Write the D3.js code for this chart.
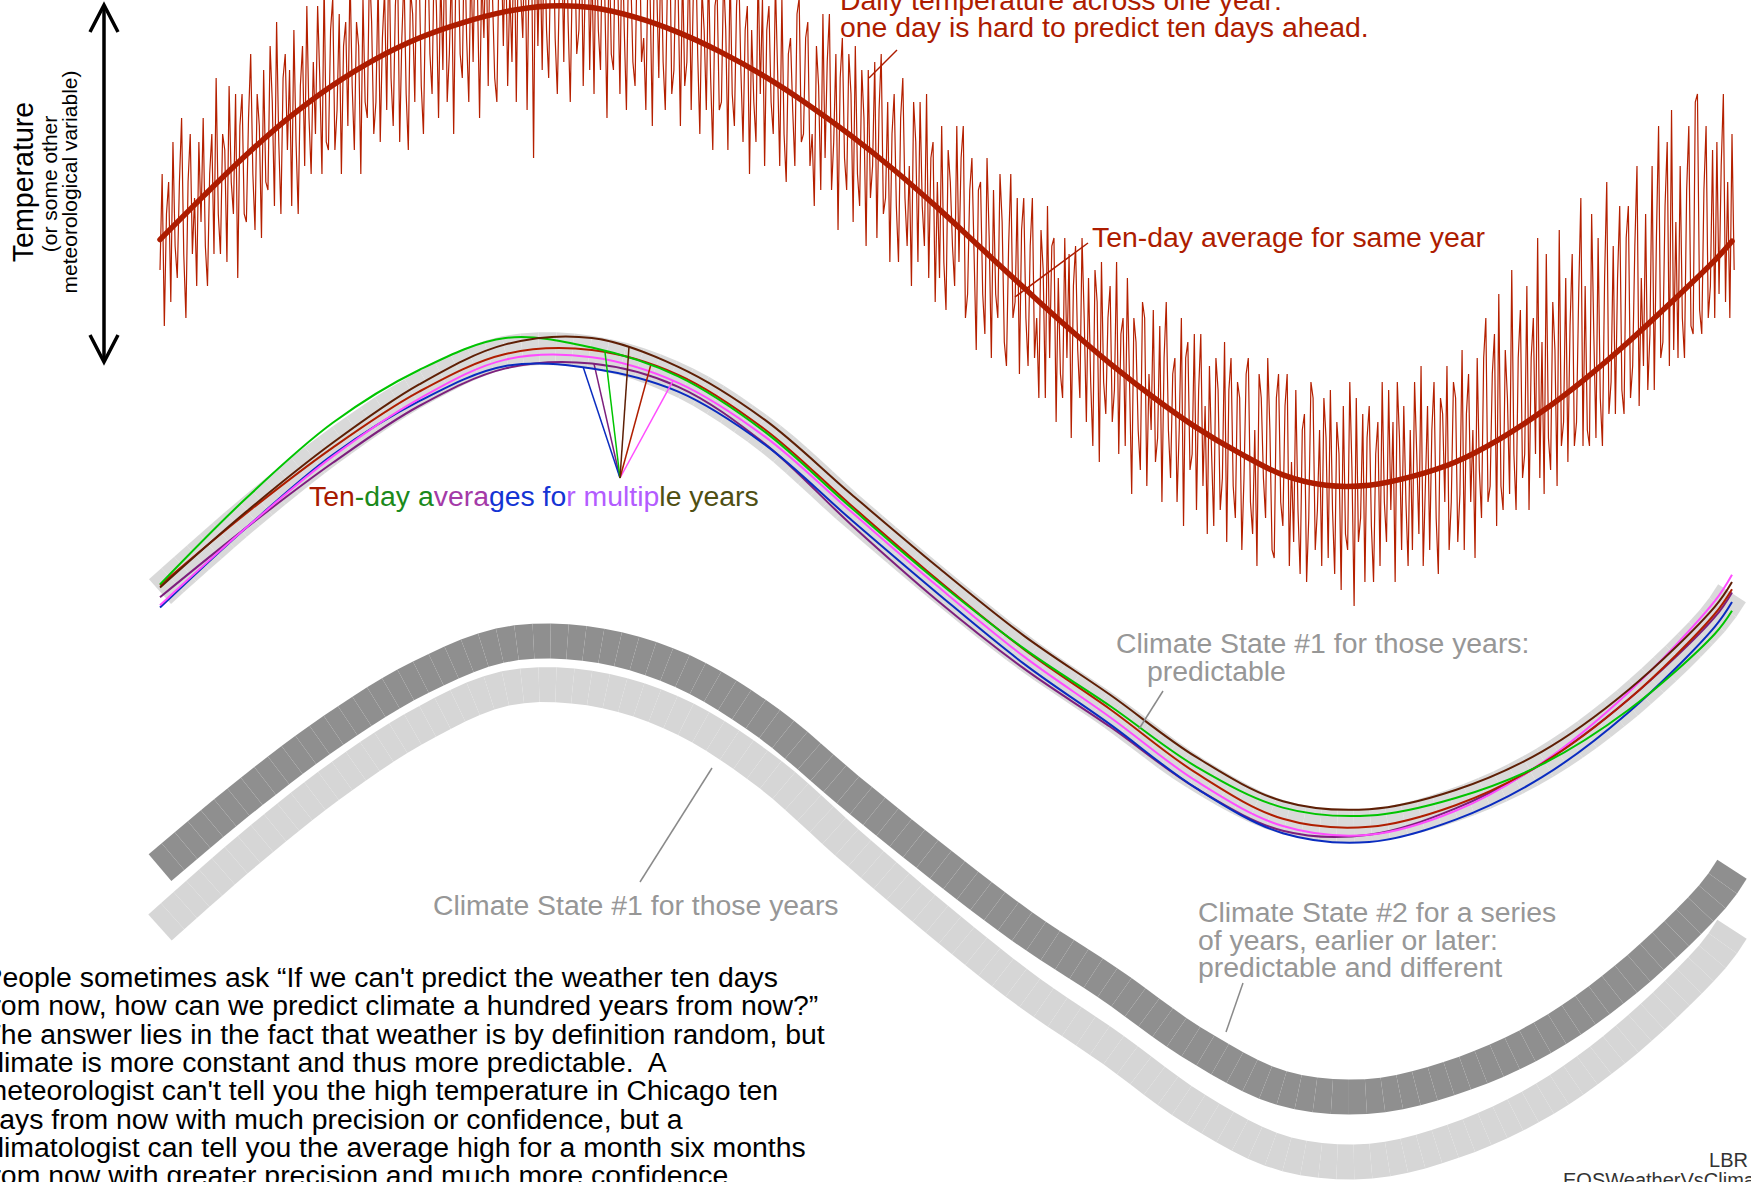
<!DOCTYPE html>
<html>
<head>
<meta charset="utf-8">
<script src="https://cdn.jsdelivr.net/npm/d3@7"></script>
<style>
  html, body { margin: 0; padding: 0; background: #fff; overflow: hidden; }
  svg { display: block; font-family: "Liberation Sans", Arial, Helvetica, sans-serif; }
  text { white-space: pre; }
</style>
</head>
<body>
<script>
// ---- data (temperature units; two readings a day) ----
const dailyTemp = [
  52, 64, 45, 59, 63, 48, 68, 55, 51, 63, 71, 54, 46, 63, 69, 54, 61, 50, 68, 58,
  71, 55, 50, 64, 69, 54, 76, 59, 54, 69, 67, 53, 75, 63, 59, 74, 51, 70, 74, 59,
  58, 71, 79, 64, 57, 74, 70, 56, 77, 63, 62, 80, 73, 60, 83, 68, 59, 76, 79, 67,
  77, 60, 82, 68, 59, 75, 80, 65, 85, 71, 64, 78, 69, 85, 76, 64, 88, 68, 67, 82,
  86, 67, 72, 84, 64, 80, 83, 70, 89, 75, 67, 83, 80, 64, 86, 73, 71, 90, 83, 69,
  73, 88, 68, 81, 87, 72, 93, 76, 70, 85, 91, 68, 81, 89, 74, 67, 87, 84, 73, 93,
  90, 75, 69, 86, 93, 79, 74, 92, 85, 71, 89, 77, 95, 73, 79, 90, 69, 89, 94, 79,
  76, 95, 81, 73, 91, 78, 94, 87, 71, 89, 81, 94, 75, 98, 86, 76, 73, 91, 93, 80,
  95, 75, 87, 78, 97, 73, 93, 87, 81, 95, 72, 91, 94, 66, 97, 80, 93, 77, 96, 82,
  76, 92, 97, 81, 74, 88, 94, 78, 99, 83, 73, 90, 93, 79, 82, 96, 75, 89, 98, 77,
  91, 74, 95, 82, 77, 97, 86, 71, 93, 79, 77, 97, 88, 74, 95, 82, 72, 91, 89, 78,
  75, 92, 95, 78, 81, 72, 90, 86, 70, 93, 88, 76, 93, 78, 72, 88, 95, 74, 77, 91,
  86, 70, 90, 75, 78, 92, 72, 87, 94, 79, 69, 87, 82, 72, 90, 76, 67, 85, 87, 72,
  73, 89, 82, 67, 90, 74, 70, 85, 90, 77, 68, 82, 85, 64, 82, 73, 68, 90, 74, 86,
  65, 82, 85, 73, 69, 88, 77, 65, 86, 69, 63, 79, 81, 72, 65, 84, 86, 68, 69, 81,
  83, 65, 69, 60, 80, 75, 62, 84, 66, 78, 84, 62, 68, 79, 57, 76, 81, 66, 62, 79,
  74, 58, 80, 64, 60, 77, 71, 55, 77, 61, 65, 78, 56, 72, 79, 59, 61, 73, 53, 69,
  74, 60, 53, 71, 76, 61, 55, 65, 50, 73, 68, 53, 73, 60, 55, 74, 51, 66, 68, 48,
  63, 51, 70, 53, 47, 67, 63, 55, 50, 70, 53, 66, 70, 46, 49, 62, 66, 54, 42, 62,
  63, 49, 44, 66, 56, 41, 62, 49, 46, 64, 58, 43, 40, 55, 64, 46, 48, 61, 39, 57,
  61, 46, 40, 55, 61, 41, 46, 36, 57, 52, 36, 60, 41, 55, 56, 33, 51, 39, 36, 56,
  41, 54, 31, 50, 55, 42, 36, 56, 46, 33, 51, 38, 30, 52, 48, 28, 53, 38, 34, 46,
  50, 33, 37, 53, 29, 44, 46, 30, 51, 38, 24, 46, 43, 32, 27, 48, 46, 25, 39, 32,
  47, 28, 31, 45, 23, 41, 48, 32, 26, 39, 41, 23, 32, 46, 20, 41, 43, 27, 29, 44,
  22, 37, 44, 25, 35, 19, 40, 29, 20, 41, 37, 22, 26, 43, 18, 37, 41, 25, 21, 38,
  36, 17, 26, 39, 41, 23, 19, 32, 15, 39, 36, 26, 21, 41, 32, 17, 16, 36, 39, 23,
  20, 35, 39, 15, 28, 18, 37, 22, 14, 32, 34, 13, 21, 38, 36, 17, 22, 32, 15, 36,
  31, 16, 37, 22, 14, 33, 29, 12, 35, 19, 17, 38, 27, 10, 36, 18, 21, 34, 13, 31,
  35, 20, 13, 29, 33, 15, 38, 23, 18, 37, 22, 33, 13, 38, 31, 17, 35, 23, 15, 32,
  17, 38, 29, 19, 40, 15, 25, 35, 17, 32, 38, 21, 14, 36, 34, 23, 40, 17, 23, 38,
  36, 18, 24, 42, 17, 34, 39, 23, 32, 16, 41, 27, 21, 41, 46, 23, 25, 39, 44, 20,
  49, 25, 22, 42, 36, 24, 52, 29, 22, 41, 47, 26, 29, 50, 22, 41, 46, 29, 56, 26,
  43, 24, 54, 31, 27, 48, 42, 25, 57, 30, 33, 51, 28, 45, 54, 30, 33, 49, 61, 30,
  50, 32, 30, 59, 44, 31, 56, 36, 30, 51, 63, 34, 38, 55, 34, 51, 60, 37, 34, 56,
  60, 36, 40, 55, 65, 35, 51, 40, 59, 37, 44, 65, 37, 56, 70, 41, 43, 60, 68, 40,
  72, 42, 58, 41, 65, 46, 41, 62, 70, 45, 44, 73, 74, 47, 44, 62, 70, 46, 50, 67,
  46, 68, 49, 65, 74, 48, 63, 46, 69, 52
];

const avgDays = [0, 10, 20, 30, 40, 50, 60, 70, 80, 90, 100, 110, 120, 130, 140, 150, 160, 170, 180,
  190, 200, 210, 220, 230, 240, 250, 260, 270, 280, 290, 300, 310, 320, 330, 340, 350, 360, 364];
const tenDayAvg = [55.8, 61.2, 66.4, 71.1, 75.1, 78.4, 81.0, 82.9, 84.3, 85.0, 84.8, 83.6, 81.7, 79.2,
  76.2, 72.7, 68.8, 64.5, 59.8, 54.8, 49.8, 44.9, 40.3, 36.1, 32.3, 29.1, 26.4, 25.1, 25.1, 26.2,
  28.0, 30.8, 34.3, 38.4, 43.0, 48.0, 53.2, 55.6];

const yearDays = [0, 20, 40, 60, 80, 100, 120, 140, 160, 180, 200, 220, 240, 260, 280, 300, 320, 340, 360, 364];
const climateState1 = [54.8, 64.3, 72.9, 80.0, 84.7, 84.7, 81.3, 74.5, 65.0, 55.8, 47.2, 39.8, 32.0, 26.6, 25.6, 28.2, 33.2, 41.0, 51.5, 54.6];
const climateState2 = [62.3, 71.3, 79.4, 86.0, 90.2, 90.2, 87.1, 80.7, 71.7, 63.0, 54.8, 47.7, 40.1, 34.7, 33.7, 36.2, 41.0, 48.6, 59.0, 62.1];

const yearGreen   = [55.7, 66.5, 75.9, 82.5, 86.5, 85.3, 81.7, 74.8, 65.3, 56.1, 47.7, 40.5, 32.9, 27.8, 26.8, 29.0, 33.2, 40.0, 49.5, 52.4];
const yearBrown   = [55.3, 64.8, 73.4, 80.7, 85.7, 86.5, 82.9, 76.3, 67.0, 57.9, 49.3, 41.9, 34.1, 28.6, 27.6, 30.0, 34.8, 42.5, 52.9, 56.0];
const yearRed     = [55.6, 64.6, 72.8, 79.8, 84.5, 85.0, 81.9, 75.1, 65.6, 56.3, 47.6, 40.1, 32.1, 26.4, 25.4, 28.1, 33.3, 41.3, 52.0, 55.1];
const yearMagenta = [53.1, 62.8, 71.7, 78.9, 83.8, 84.1, 80.9, 74.2, 64.8, 55.5, 46.7, 39.1, 31.1, 25.5, 24.4, 27.4, 33.4, 42.2, 53.6, 56.9];
const yearPurple  = [54.1, 62.8, 70.9, 78.0, 82.7, 83.3, 80.4, 73.3, 63.2, 53.7, 45.2, 37.9, 30.2, 24.9, 24.4, 27.7, 33.3, 41.3, 51.6, 54.7];
const yearBlue    = [52.8, 62.8, 71.9, 78.6, 83.0, 82.7, 79.8, 73.2, 63.8, 54.6, 45.8, 38.2, 30.2, 24.6, 23.5, 26.3, 31.6, 39.7, 50.4, 53.5];

// day where each year's leader line touches its curve
const years = [
  { values: yearPurple,  color: "#7d1f7d", leaderDay: 100.5 },
  { values: yearBlue,    color: "#0a2cc0", leaderDay: 98 },
  { values: yearMagenta, color: "#ff4dff", leaderDay: 118.8 },
  { values: yearRed,     color: "#b01e00", leaderDay: 113.7 },
  { values: yearGreen,   color: "#00c400", leaderDay: 103 },
  { values: yearBrown,   color: "#5e1f05", leaderDay: 108.6 }
];

const multiLabel = [
  ["Ten", "#a81a00"], ["-day a", "#1b8a1b"], ["vera", "#a43aa8"],
  ["ges fo", "#1434d4"], ["r multip", "#b35cff"], ["le years", "#4f4f12"]
];

const noteLines = [
  "People sometimes ask \u201cIf we can't predict the weather ten days",
  "from now, how can we predict climate a hundred years from now?\u201d",
  "The answer lies in the fact that weather is by definition random, but",
  "climate is more constant and thus more predictable.  A",
  "meteorologist can't tell you the high temperature in Chicago ten",
  "days from now with much precision or confidence, but a",
  "climatologist can tell you the average high for a month six months",
  "from now with greater precision and much more confidence."
];

// ---- layout ----
const W = 1751, H = 1182;
const panel1Offset = 344;   // multi-year panel
const panel2Offset = 680;   // climate state panel
const red = "#ad1c00";
const grey = "#979797";
const fs = 28.4;

const svg = d3.select("body").append("svg")
  .attr("width", W)
  .attr("height", H);

const xScale = d3.scaleLinear([0, 364], [160, 1732]);
const yScale = d3.scaleLinear([25, 85], [486, 6]);

const smooth = d3.line()
  .x(d => xScale(d[0]))
  .y(d => yScale(d[1]))
  .curve(d3.curveCatmullRom.alpha(0.5));

// two readings per day
const jagged = d3.line()
  .x((d, i) => xScale(i / 2))
  .y(d => yScale(d));

function pairs(days, vals) {
  return days.map((d, i) => [d, vals[i]]);
}

// y of a path at a given x (path runs left to right)
function yAtX(node, x) {
  let lo = 0, hi = node.getTotalLength();
  for (let k = 0; k < 40; k++) {
    const mid = (lo + hi) / 2;
    if (node.getPointAtLength(mid).x < x) lo = mid; else hi = mid;
  }
  return node.getPointAtLength(lo).y;
}

// wide band made of short quads along the curve
function addBand(g, data, half, color, step) {
  const guide = g.append("path").attr("d", smooth(data)).attr("fill", "none");
  const node = guide.node();
  const len = node.getTotalLength();
  const n = Math.round(len / step);
  const pts = d3.range(n + 1).map(i => {
    const p = node.getPointAtLength(len * i / n);
    return [p.x, p.y];
  });
  guide.remove();
  const norms = pts.map((p, i) => {
    const a = pts[Math.max(0, i - 1)], b = pts[Math.min(n, i + 1)];
    const dx = b[0] - a[0], dy = b[1] - a[1], l = Math.hypot(dx, dy);
    return [-dy / l, dx / l];
  });
  const off = (i, s) => [pts[i][0] + s * norms[i][0] * half, pts[i][1] + s * norms[i][1] * half];
  const quads = d3.range(n).map(i => [off(i, 1), off(i + 1, 1), off(i + 1, -1), off(i, -1)]);
  g.append("g")
    .selectAll("path")
    .data(quads)
    .join("path")
    .attr("d", q => "M" + q.join("L") + "Z")
    .attr("fill", color);
}

function label(x, y, str, size, color, anchor) {
  return svg.append("text")
    .attr("x", x)
    .attr("y", y)
    .attr("font-size", size)
    .attr("fill", color)
    .attr("text-anchor", anchor || "start")
    .text(str);
}

function leader(g, x1, y1, x2, y2, color) {
  g.append("line")
    .attr("x1", x1).attr("y1", y1)
    .attr("x2", x2).attr("y2", y2)
    .attr("stroke", color)
    .attr("stroke-width", 1.5);
}

// ---- panel 0: one year ----
const g0 = svg.append("g");

g0.append("path")
  .datum(dailyTemp)
  .attr("fill", "none")
  .attr("stroke", "#b52000")
  .attr("stroke-width", 1.2)
  .attr("d", jagged);

g0.append("path")
  .datum(pairs(avgDays, tenDayAvg))
  .attr("fill", "none")
  .attr("stroke", red)
  .attr("stroke-width", 5.5)
  .attr("stroke-linecap", "round")
  .attr("d", smooth);

// ---- panel 1: several years ----
const g1 = svg.append("g").attr("transform", `translate(0,${panel1Offset})`);
addBand(g1, pairs(yearDays, climateState1), 16.5, "#d9d9d9", 17);

const converge = [620, 478 - panel1Offset];
years.forEach(yr => {
  const p = g1.append("path")
    .datum(pairs(yearDays, yr.values))
    .attr("fill", "none")
    .attr("stroke", yr.color)
    .attr("stroke-width", 2)
    .attr("d", smooth);
  const lx = xScale(yr.leaderDay);
  leader(g1, converge[0], converge[1], lx, yAtX(p.node(), lx), yr.color);
});

// ---- panel 2: climate states ----
const g2 = svg.append("g").attr("transform", `translate(0,${panel2Offset})`);
addBand(g2, pairs(yearDays, climateState1), 17.5, "#d6d6d6", 17);
addBand(g2, pairs(yearDays, climateState2), 17.5, "#8f8f8f", 17);

// ---- y axis arrow and label ----
const axisG = svg.append("g")
  .attr("stroke", "#000")
  .attr("stroke-width", 3.5)
  .attr("fill", "none")
  .attr("stroke-linejoin", "miter");
axisG.append("line").attr("x1", 104).attr("y1", 6).attr("x2", 104).attr("y2", 361);
axisG.append("polyline").attr("points", "90,32 104,5 118,32");
axisG.append("polyline").attr("points", "90,335 104,362 118,335");

svg.append("text")
  .attr("transform", "translate(33,182) rotate(-90)")
  .attr("text-anchor", "middle")
  .attr("font-size", 28.6)
  .text("Temperature");
svg.append("text")
  .attr("transform", "translate(57,184) rotate(-90)")
  .attr("text-anchor", "middle")
  .attr("font-size", 21)
  .text("(or some other");
svg.append("text")
  .attr("transform", "translate(77,182) rotate(-90)")
  .attr("text-anchor", "middle")
  .attr("font-size", 21)
  .text("meteorological variable)");

// ---- annotations ----
label(840, 10, "Daily temperature across one year:", fs, red);
label(840, 37, "one day is hard to predict ten days ahead.", fs, red);
leader(svg, 897, 50, 869, 78, red);

label(1092, 247, "Ten-day average for same year", fs, red);
leader(svg, 1088, 243, 1015, 297, red);

const ml = svg.append("text")
  .attr("x", 309)
  .attr("y", 506)
  .attr("font-size", fs);
ml.selectAll("tspan")
  .data(multiLabel)
  .join("tspan")
  .attr("fill", d => d[1])
  .text(d => d[0]);

label(1116, 653, "Climate State #1 for those years:", fs, grey);
label(1147, 681, "predictable", fs, grey);
leader(svg, 1163, 691, 1139, 729, "#8a8a8a");

label(433, 915, "Climate State #1 for those years", fs, grey);
leader(svg, 712, 768, 640, 882, "#8a8a8a");

label(1198, 922, "Climate State #2 for a series", fs, grey);
label(1198, 950, "of years, earlier or later:", fs, grey);
label(1198, 977, "predictable and different", fs, grey);
leader(svg, 1243, 983, 1226, 1032, "#8a8a8a");

noteLines.forEach((line, i) => {
  label(-16.5, 987 + i * 28.3, line, fs, "#000");
});

label(1748, 1167, "LBR", 20, "#333", "end");
label(1563, 1187, "EOSWeatherVsClimate", 20, "#333");
</script>
</body>
</html>
